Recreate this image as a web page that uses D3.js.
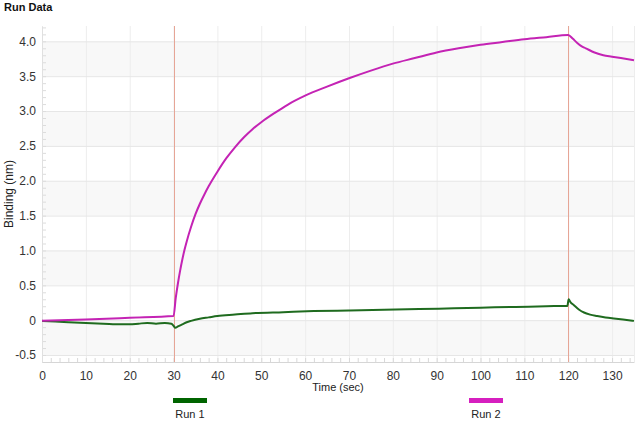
<!DOCTYPE html>
<html>
<head>
  <meta charset="utf-8">
  <title>Run Data</title>
  <script src="https://d3js.org/d3.v7.min.js"></script>
  <style>
    body { margin: 0; background: #fff; }
    text { font-family: "Liberation Sans", Arial, sans-serif; }
  </style>
</head>
<body>
  <svg id="chart" width="640" height="421"></svg>

  <script>
    // Run 1 (green) sensorgram
    var run1Time = [0, 3, 6, 10, 14, 18, 20, 22, 24, 26, 28, 29.5, 30, 30.4, 31, 32, 33, 34, 36, 38, 40, 44, 48, 55, 62, 70, 78, 86, 94, 100, 108, 115, 119.8, 120.1, 120.5, 121.3, 122.5, 123.6, 125, 126.6, 128.5, 130.4, 132.5, 135];
    var run1Value = [-0.01, -0.02, -0.03, -0.04, -0.05, -0.06, -0.06, -0.05, -0.04, -0.05, -0.04, -0.05, -0.08, -0.11, -0.09, -0.06, -0.03, -0.01, 0.02, 0.04, 0.06, 0.08, 0.10, 0.115, 0.13, 0.14, 0.15, 0.16, 0.17, 0.18, 0.19, 0.20, 0.205, 0.30, 0.26, 0.215, 0.15, 0.11, 0.08, 0.06, 0.04, 0.025, 0.01, -0.01];

    // Run 2 (magenta) sensorgram
    var run2Time = [0, 10, 20, 30, 30.5, 31, 31.5, 32, 32.5, 33, 34, 35, 36, 37, 38, 40, 42, 44, 46, 48, 50, 53, 56, 60, 65, 70, 75, 80, 85, 90, 95, 100, 105, 110, 115, 120, 121, 122, 123, 124, 126, 128, 130, 132, 135];
    var run2Value = [-0.01, 0.01, 0.035, 0.06, 0.32, 0.53, 0.71, 0.87, 1.01, 1.13, 1.34, 1.52, 1.67, 1.80, 1.92, 2.13, 2.32, 2.48, 2.62, 2.74, 2.84, 2.97, 3.09, 3.22, 3.35, 3.47, 3.58, 3.68, 3.76, 3.84, 3.90, 3.95, 3.99, 4.03, 4.06, 4.09, 4.04, 3.98, 3.93, 3.90, 3.84, 3.80, 3.78, 3.76, 3.73];

    var xTicks = [0, 10, 20, 30, 40, 50, 60, 70, 80, 90, 100, 110, 120, 130];
    var yTicks = [-0.5, 0, 0.5, 1.0, 1.5, 2.0, 2.5, 3.0, 3.5, 4.0];
    var stepTimes = [30, 120];
    var runNames = ["Run 1", "Run 2"];
    var runColors = ["#1f6b1f", "#c423b4"];
    var legendColors = ["#006400", "#d61fbf"];

    var margin = { top: 26, right: 6, bottom: 59, left: 42 };
    var width = 640 - margin.left - margin.right;
    var height = 421 - margin.top - margin.bottom;

    var svg = d3.select("#chart");

    svg.append("text")
      .attr("x", 4)
      .attr("y", 11)
      .attr("font-size", "11px")
      .attr("font-weight", "bold")
      .attr("fill", "#111")
      .text("Run Data");

    var g = svg.append("g")
      .attr("transform", "translate(" + margin.left + "," + margin.top + ")");

    var xScale = d3.scaleLinear().domain([0, 135]).range([0, width]);
    var yScale = d3.scaleLinear().domain([-0.6, 4.22]).range([height, 0]);

    // alternating bands
    var bands = [[-0.5, 0], [0.5, 1.0], [1.5, 2.0], [2.5, 3.0], [3.5, 4.0]];
    g.selectAll("rect.band")
      .data(bands)
      .enter()
      .append("rect")
      .attr("class", "band")
      .attr("x", 0)
      .attr("width", width)
      .attr("y", function(d) { return yScale(d[1]); })
      .attr("height", function(d) { return yScale(d[0]) - yScale(d[1]); })
      .attr("fill", "#f8f8f8");

    // grid lines
    g.append("g")
      .call(d3.axisBottom(xScale).tickValues(xTicks.concat([135])).tickSize(height).tickFormat(""))
      .call(function(a) {
        a.select(".domain").remove();
        a.selectAll("line").attr("stroke", "#ededed");
      });

    g.append("g")
      .call(d3.axisLeft(yScale).tickValues(yTicks).tickSize(-width).tickFormat(""))
      .call(function(a) {
        a.select(".domain").remove();
        a.selectAll("line").attr("stroke", "#e6e6e6");
      });

    // minor ticks
    g.append("g")
      .attr("transform", "translate(0," + height + ")")
      .call(d3.axisTop(xScale).ticks(67).tickSize(4).tickFormat(""))
      .call(function(a) {
        a.select(".domain").remove();
        a.selectAll("line").attr("stroke", "#d8d8d8");
      });

    g.append("g")
      .call(d3.axisRight(yScale).ticks(48).tickSize(4).tickFormat(""))
      .call(function(a) {
        a.select(".domain").remove();
        a.selectAll("line").attr("stroke", "#dcdcdc");
      });

    // x axis
    g.append("g")
      .attr("transform", "translate(0," + height + ")")
      .call(d3.axisBottom(xScale).tickValues(xTicks).tickSize(0).tickPadding(9))
      .call(function(a) {
        a.select(".domain").attr("stroke", "#d6d6d6");
        a.selectAll("text").attr("font-size", "12px").attr("fill", "#333");
      });

    // y axis
    g.append("g")
      .call(d3.axisLeft(yScale).tickValues(yTicks).tickSize(0).tickPadding(6)
        .tickFormat(function(d) { return d === 0 ? "0" : d3.format(".1f")(d).replace("\u2212", "-"); }))
      .call(function(a) {
        a.select(".domain").attr("stroke", "#e0e0e0");
        a.selectAll("text").attr("font-size", "12px").attr("fill", "#333");
      });

    // step markers
    g.selectAll("line.step")
      .data(stepTimes)
      .enter()
      .append("line")
      .attr("class", "step")
      .attr("x1", function(d) { return Math.round(xScale(d)) + 0.5; })
      .attr("x2", function(d) { return Math.round(xScale(d)) + 0.5; })
      .attr("y1", 0)
      .attr("y2", height)
      .attr("stroke", "#e6a596")
      .attr("stroke-width", 1);

    // curves
    var line = d3.line()
      .x(function(d) { return xScale(d[0]); })
      .y(function(d) { return yScale(d[1]); })
      .curve(d3.curveMonotoneX);

    var runs = [d3.zip(run1Time, run1Value), d3.zip(run2Time, run2Value)];

    g.selectAll("path.run")
      .data(runs)
      .enter()
      .append("path")
      .attr("class", "run")
      .attr("d", line)
      .attr("fill", "none")
      .attr("stroke", function(d, i) { return runColors[i]; })
      .attr("stroke-width", 2);

    // axis labels
    svg.append("text")
      .attr("x", margin.left + width / 2)
      .attr("y", 391)
      .attr("text-anchor", "middle")
      .attr("font-size", "11px")
      .attr("fill", "#222")
      .text("Time (sec)");

    svg.append("text")
      .attr("transform", "rotate(-90)")
      .attr("x", -(margin.top + height / 2))
      .attr("y", 13)
      .attr("text-anchor", "middle")
      .attr("font-size", "12px")
      .attr("fill", "#222")
      .text("Binding (nm)");

    // legend
    var legendX = [173, 469];
    var legend = svg.selectAll("g.legend")
      .data(runNames)
      .enter()
      .append("g")
      .attr("class", "legend")
      .attr("transform", function(d, i) { return "translate(" + legendX[i] + ",398)"; });

    legend.append("rect")
      .attr("width", 34)
      .attr("height", 5)
      .attr("fill", function(d, i) { return legendColors[i]; });

    legend.append("text")
      .attr("x", 17)
      .attr("y", 20)
      .attr("text-anchor", "middle")
      .attr("font-size", "11px")
      .attr("fill", "#222")
      .text(function(d) { return d; });
  </script>
</body>
</html>
